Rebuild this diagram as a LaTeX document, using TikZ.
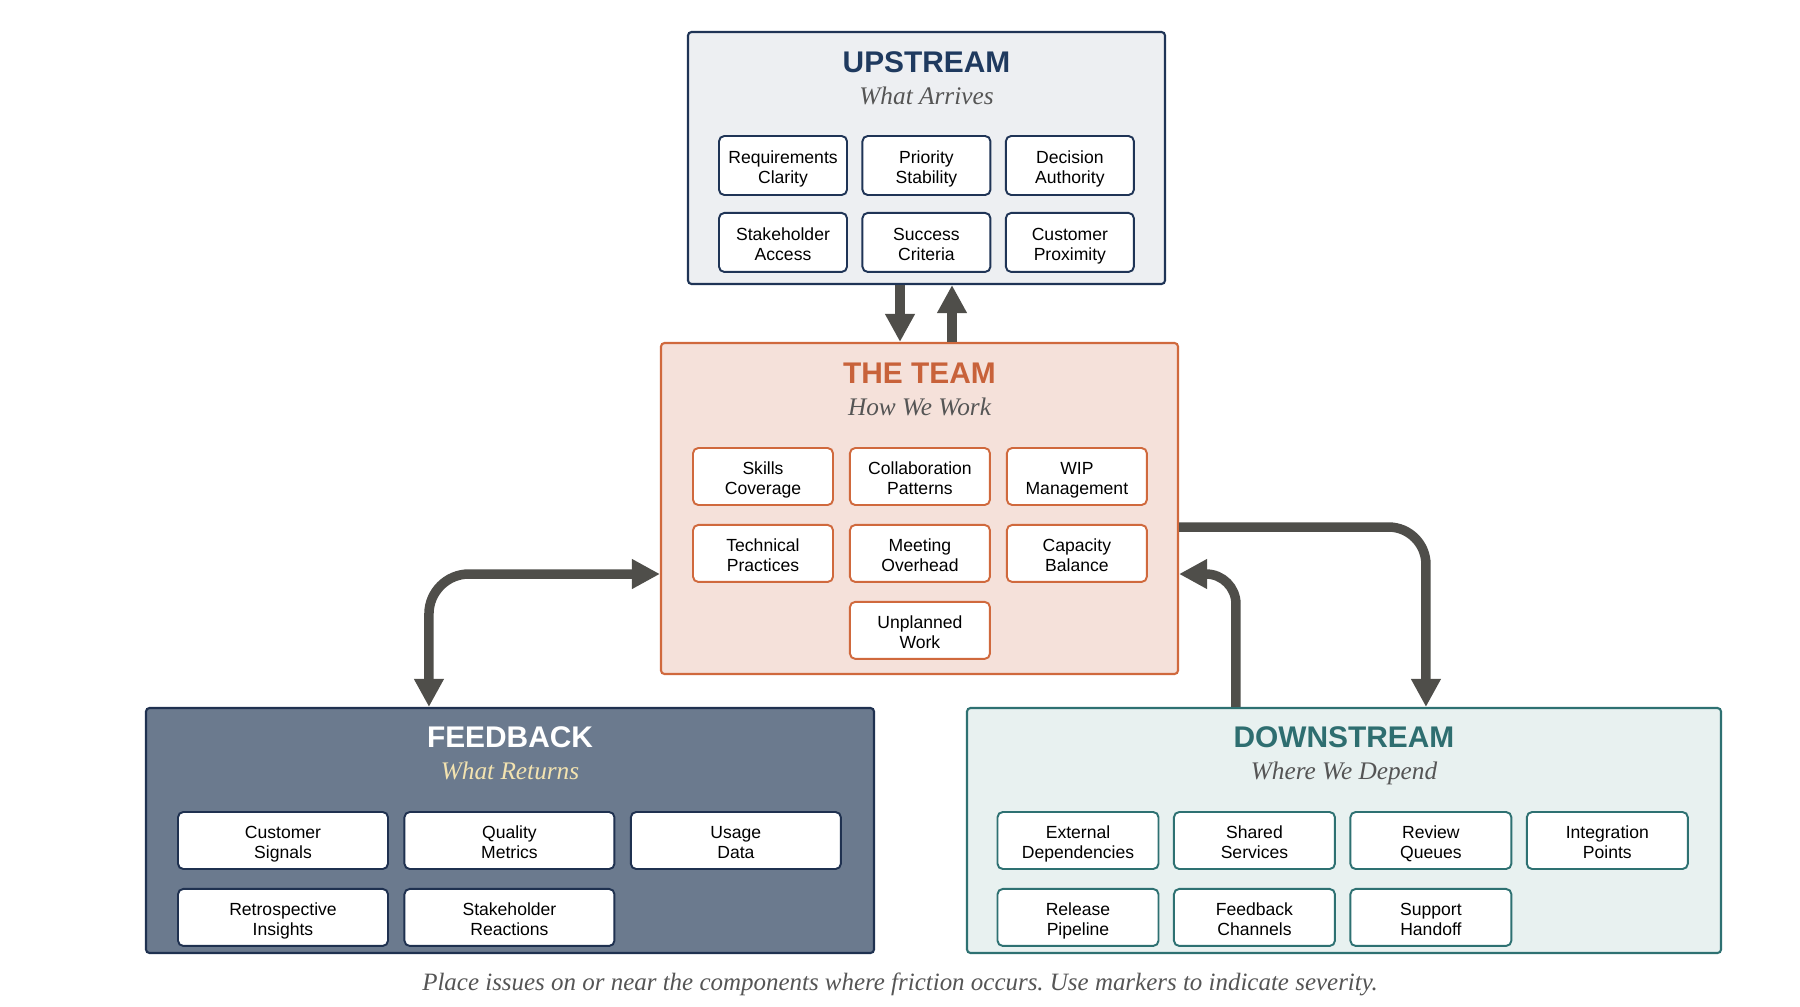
\documentclass[tikz,border=0pt]{standalone}
\usepackage{fontspec}
\setmainfont{Liberation Serif}
\setsansfont{Liberation Sans}
\usepackage{xcolor}
\usetikzlibrary{arrows.meta, positioning}

\definecolor{upfill}{HTML}{EDEFF2}
\definecolor{upline}{HTML}{1F3456}
\definecolor{uptitle}{HTML}{1F3A5F}
\definecolor{teamfill}{HTML}{F5E1DA}
\definecolor{teamline}{HTML}{D0693D}
\definecolor{teamtitle}{HTML}{C8623A}
\definecolor{fbfill}{HTML}{6B7A8E}
\definecolor{fbline}{HTML}{1F3150}
\definecolor{fbsub}{HTML}{F3E3B0}
\definecolor{dsfill}{HTML}{E8F1F0}
\definecolor{dsline}{HTML}{2E7172}
\definecolor{dstitle}{HTML}{2E6E70}
\definecolor{flowgray}{HTML}{4F4E4A}
\definecolor{subgray}{HTML}{555555}

\tikzset{
    flowtip/.tip={Triangle[length=0.56cm, width=0.56cm]},
}

% two centred lines with fixed strut height/depth
\newcommand{\boxlines}[2]{\rule{0pt}{11.5pt}#1\\#2\rule[-2.5pt]{0pt}{2.5pt}}

\frenchspacing

\begin{document}
\begin{tikzpicture}[
    container/.style={draw, rounded corners=2pt, line width=1.2pt, inner sep=0pt},
    itembox/.style={draw, fill=white, rounded corners=3pt, line width=1.1pt, align=center, inner sep=2pt,
        font=\sffamily\fontsize{10}{11.2}\selectfont},
    upitem/.style={itembox, draw=upline, minimum width=2.56cm, minimum height=1.18cm},
    teamitem/.style={itembox, draw=teamline, minimum width=2.8cm, minimum height=1.14cm},
    fbitem/.style={itembox, draw=fbline, minimum width=4.2cm, minimum height=1.14cm},
    dsitem/.style={itembox, draw=dsline, minimum width=3.22cm, minimum height=1.14cm},
    titletext/.style={font=\sffamily\bfseries\fontsize{17}{20}\selectfont, anchor=base},
    subtext/.style={font=\itshape\fontsize{14.4}{17}\selectfont, text=subgray, anchor=base},
    flow/.style={line width=5.4pt, draw=flowgray, -flowtip},
    flowboth/.style={line width=5.4pt, draw=flowgray, flowtip-flowtip},
]

\useasboundingbox (0,0) rectangle (36,-20.12);

% Upstream block
\node[container, fill=upfill, draw=upline, minimum width=9.54cm, minimum height=5.04cm] (upstream) at (18.53,-3.16) {};
\node[titletext, text=uptitle] (up_title) at ([yshift=-0.83cm]upstream.north) {UPSTREAM};
\node[subtext] (up_sub) at ([yshift=-1.48cm]upstream.north) {What Arrives};

\node[upitem] (req_clarity) at (15.66,-3.31) {\boxlines{Requirements}{Clarity}};
\node[upitem, right=0.27cm of req_clarity] (prio_stability) {\boxlines{Priority}{Stability}};
\node[upitem, right=0.27cm of prio_stability] (decision_auth) {\boxlines{Decision}{Authority}};
\node[upitem, below=0.32cm of req_clarity] (stake_access) {\boxlines{Stakeholder}{Access}};
\node[upitem, right=0.27cm of stake_access] (success_crit) {\boxlines{Success}{Criteria}};
\node[upitem, right=0.27cm of success_crit] (cust_proximity) {\boxlines{Customer}{Proximity}};

% Team block
\node[container, fill=teamfill, draw=teamline, minimum width=10.34cm, minimum height=6.62cm] (team) at (18.39,-10.17) {};
\node[titletext, text=teamtitle] (team_title) at ([yshift=-0.83cm]team.north) {THE TEAM};
\node[subtext] (team_sub) at ([yshift=-1.48cm]team.north) {How We Work};

\node[teamitem] (skills_cov) at (15.26,-9.53) {\boxlines{Skills}{Coverage}};
\node[teamitem, right=0.3cm of skills_cov] (collab_pat) {\boxlines{Collaboration}{Patterns}};
\node[teamitem, right=0.3cm of collab_pat] (wip_mgmt) {\boxlines{WIP}{Management}};
\node[teamitem, below=0.36cm of skills_cov] (tech_prac) {\boxlines{Technical}{Practices}};
\node[teamitem, right=0.3cm of tech_prac] (meeting_ovh) {\boxlines{Meeting}{Overhead}};
\node[teamitem, right=0.3cm of meeting_ovh] (capacity_bal) {\boxlines{Capacity}{Balance}};
\node[teamitem, below=0.36cm of meeting_ovh] (unplanned_work) {\boxlines{Unplanned}{Work}};

% Feedback block
\node[container, fill=fbfill, draw=fbline, minimum width=14.56cm, minimum height=4.9cm] (feedback) at (10.2,-16.61) {};
\node[titletext, text=white] (fb_title) at ([yshift=-0.81cm]feedback.north) {FEEDBACK};
\node[subtext, text=fbsub] (fb_sub) at ([yshift=-1.46cm]feedback.north) {What Returns};

\node[fbitem] (cust_signals) at (5.66,-16.81) {\boxlines{Customer}{Signals}};
\node[fbitem, right=0.29cm of cust_signals] (quality_met) {\boxlines{Quality}{Metrics}};
\node[fbitem, right=0.29cm of quality_met] (usage_data) {\boxlines{Usage}{Data}};
\node[fbitem, below=0.36cm of cust_signals] (retro_ins) {\boxlines{Retrospective}{Insights}};
\node[fbitem, right=0.29cm of retro_ins] (stake_react) {\boxlines{Stakeholder}{Reactions}};

% Downstream block
\node[container, fill=dsfill, draw=dsline, minimum width=15.08cm, minimum height=4.9cm] (downstream) at (26.88,-16.61) {};
\node[titletext, text=dstitle] (ds_title) at ([yshift=-0.81cm]downstream.north) {DOWNSTREAM};
\node[subtext] (ds_sub) at ([yshift=-1.46cm]downstream.north) {Where We Depend};

\node[dsitem] (ext_deps) at (21.56,-16.81) {\boxlines{External}{Dependencies}};
\node[dsitem, right=0.27cm of ext_deps] (shared_serv) {\boxlines{Shared}{Services}};
\node[dsitem, right=0.27cm of shared_serv] (review_q) {\boxlines{Review}{Queues}};
\node[dsitem, right=0.27cm of review_q] (integ_pts) {\boxlines{Integration}{Points}};
\node[dsitem, below=0.36cm of ext_deps] (release_pipe) {\boxlines{Release}{Pipeline}};
\node[dsitem, right=0.27cm of release_pipe] (fb_channels) {\boxlines{Feedback}{Channels}};
\node[dsitem, right=0.27cm of fb_channels] (support_hand) {\boxlines{Support}{Handoff}};

% Arrows
\coordinate (up_down) at ([xshift=-0.53cm]upstream.south);
\coordinate (up_up) at ([xshift=0.51cm]upstream.south);
\draw[flow] (up_down) -- (up_down |- team.north);
\draw[flow] (up_up |- team.north) -- (up_up);

\coordinate (fb_in) at ([xshift=5.68cm]feedback.north west);
\coordinate (team_fb) at ([yshift=-1.31cm]team.west);
\draw[flowboth, rounded corners=0.8cm] (fb_in) |- (team_fb);

\coordinate (team_out) at ([yshift=-0.37cm]team.east);
\coordinate (ds_in) at ([xshift=9.2cm]downstream.north west);
\draw[flow, rounded corners=0.75cm] (team_out) -| (ds_in);

\coordinate (ds_out) at ([xshift=5.4cm]downstream.north west);
\coordinate (team_ds) at ([yshift=-1.31cm]team.east);
\draw[flow, rounded corners=0.6cm] (ds_out) |- (team_ds);

% Footnote
\node[font=\itshape\fontsize{14.2}{16}\selectfont, text=subgray, anchor=base] (caption) at (18,-19.8)
    {Place issues on or near the components where friction occurs. Use markers to indicate severity.};

\end{tikzpicture}
\end{document}
